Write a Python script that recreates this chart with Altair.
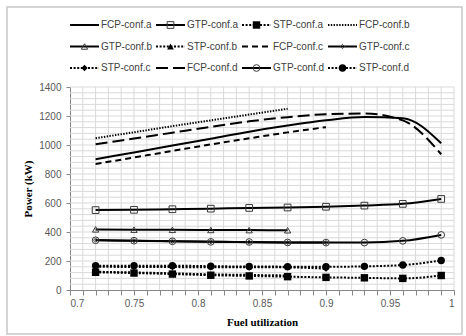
import altair as alt
import pandas as pd

# Fuel utilization sample points
fuel_util = [0.72, 0.75, 0.78, 0.81, 0.84, 0.87, 0.90, 0.93, 0.96, 0.99]

# Power (kW) per configuration
fcp_a = [902, 949, 996, 1043, 1092, 1134, 1170, 1193, 1185, 1012]
gtp_a = [551, 553, 557, 561, 566, 569, 574, 582, 594, 628]
stp_a = [122, 117, 110, 102, 97, 92, 87, 84, 80, 100]
fcp_b = [1047, 1088, 1130, 1170, 1210, 1250]
gtp_b = [418, 416, 415, 414, 413, 412]
stp_b = [126, 121, 115, 108, 104, 100]
fcp_c = [869, 914, 959, 1004, 1046, 1087, 1123]
gtp_c = [344, 340, 336, 333, 330, 328, 327]
stp_c = [160, 159, 158, 157, 157, 156, 147]
fcp_d = [1005, 1045, 1085, 1125, 1163, 1192, 1212, 1217, 1170, 936]
gtp_d = [343, 340, 336, 332, 331, 328, 327, 327, 339, 380]
stp_d = [168, 168, 168, 164, 162, 161, 160, 163, 172, 203]

series_names = [
    "FCP-conf.a", "GTP-conf.a", "STP-conf.a", "FCP-conf.b",
    "GTP-conf.b", "STP-conf.b", "FCP-conf.c", "GTP-conf.c",
    "STP-conf.c", "FCP-conf.d", "GTP-conf.d", "STP-conf.d",
]
series_values = [
    fcp_a, gtp_a, stp_a, fcp_b,
    gtp_b, stp_b, fcp_c, gtp_c,
    stp_c, fcp_d, gtp_d, stp_d,
]

# Line / marker style per series
DOT = [2, 1.6]
FINE_DOT = [1.4, 1.4]
SHORT_DASH = [6, 4]
LONG_DASH = [12, 5]
styles = {
    "FCP-conf.a": dict(dash=None, shape=None),
    "GTP-conf.a": dict(dash=None, shape="square", filled=False, size=45),
    "STP-conf.a": dict(dash=DOT, shape="square", filled=True, size=55),
    "FCP-conf.b": dict(dash=FINE_DOT, shape=None),
    "GTP-conf.b": dict(dash=None, shape="triangle-up", filled=False, size=40),
    "STP-conf.b": dict(dash=DOT, shape="triangle-up", filled=True, size=45),
    "FCP-conf.c": dict(dash=SHORT_DASH, shape=None),
    "GTP-conf.c": dict(dash=None, shape="diamond", filled=False, size=18),
    "STP-conf.c": dict(dash=DOT, shape="diamond", filled=True, size=40),
    "FCP-conf.d": dict(dash=LONG_DASH, shape=None),
    "GTP-conf.d": dict(dash=None, shape="circle", filled=False, size=45),
    "STP-conf.d": dict(dash=DOT, shape="circle", filled=True, size=55),
}

W, H = 384, 203
LABEL_FONT = "Liberation Sans"
TITLE_FONT = "Liberation Serif"

x_ticks = [round(0.70 + i * 0.01, 2) for i in range(31)]
y_ticks = list(range(0, 1401, 200))
grid_x = x_ticks[1:]
grid_y = list(range(40, 1401, 40))

x_scale = alt.Scale(domain=[0.7, 1.0], nice=False, zero=False)
y_scale = alt.Scale(domain=[0, 1400], nice=False, zero=True)

x_axis = alt.Axis(
    values=x_ticks,
    labelExpr="round(datum.value * 100) % 5 == 0 ? format(datum.value, '~g') : ''",
    labelOverlap=False,
    grid=False,
    tickSize=5,
    labelPadding=3,
    title="Fuel utilization",
    titleY=32,
    titleBaseline="middle",
)
y_axis = alt.Axis(
    values=y_ticks,
    format="d",
    grid=False,
    tickSize=4,
    labelPadding=5,
    title="Power (kW)",
    titleX=-42,
    titleY=H / 2,
    titleAngle=270,
    titleAlign="center",
    titleBaseline="middle",
)

x_enc = alt.X("u:Q", scale=x_scale, axis=x_axis)
y_enc = alt.Y("p:Q", scale=y_scale, axis=y_axis)

# ---- plot area: gridlines, curves and markers ----
grid_color = "#d9d9d9"
main_layers = [
    alt.Chart(pd.DataFrame({"u": grid_x})).mark_rule(color=grid_color, strokeWidth=1).encode(x=x_enc),
    alt.Chart(pd.DataFrame({"p": grid_y})).mark_rule(color=grid_color, strokeWidth=1).encode(y=y_enc),
]

for name, vals in zip(series_names, series_values):
    st = styles[name]
    df = pd.DataFrame({"u": fuel_util[: len(vals)], "p": vals})
    line_kw = dict(color="black", strokeWidth=2, interpolate="monotone")
    if st["dash"]:
        line_kw["strokeDash"] = st["dash"]
    main_layers.append(alt.Chart(df).mark_line(**line_kw).encode(x=x_enc, y=y_enc))

for name, vals in zip(series_names, series_values):
    st = styles[name]
    if not st["shape"]:
        continue
    df = pd.DataFrame({"u": fuel_util[: len(vals)], "p": vals})
    if st["filled"]:
        pt = alt.Chart(df).mark_point(shape=st["shape"], filled=True, size=st["size"],
                                      color="black", opacity=1)
    else:
        pt = alt.Chart(df).mark_point(shape=st["shape"], filled=False, size=st["size"],
                                      color="#3a3a3a", strokeWidth=1, opacity=1)
    main_layers.append(pt.encode(x=x_enc, y=y_enc))

plot = alt.layer(*main_layers)

# ---- legend in pixel space (relative to the plot origin) ----
px_x = alt.Scale(domain=[0, W], nice=False, zero=False)
px_y = alt.Scale(domain=[0, H], nice=False, zero=False, reverse=True)

COL_STEP, ROW_STEP = 86, 21.5
ROW0, SAMPLE_LEN = -62, 29

legend_df = pd.DataFrame({
    "series": series_names,
    "idx": list(range(len(series_names))),
})
legend_base = alt.Chart(legend_df).transform_calculate(
    lx=f"(datum.idx % 4) * {COL_STEP}",
    ly=f"{ROW0} + floor(datum.idx / 4) * {ROW_STEP}",
).transform_calculate(
    lx2=f"datum.lx + {SAMPLE_LEN}",
    mx=f"datum.lx + {SAMPLE_LEN / 2}",
    tx=f"datum.lx + {SAMPLE_LEN + 2}",
)

legend_layers = [
    alt.Chart(pd.DataFrame({"k": [0]})).mark_rect(
        filled=False, stroke="#c8c8c8", strokeWidth=1.5
    ).encode(
        x=alt.value(-63), x2=alt.value(W + 8), y=alt.value(-80), y2=alt.value(H + 44)
    )
]
for name in series_names:
    st = styles[name]
    base = legend_base.transform_filter(alt.datum.series == name)
    rule_kw = dict(color="black", strokeWidth=2)
    if st["dash"]:
        rule_kw["strokeDash"] = st["dash"]
    legend_layers.append(base.mark_rule(**rule_kw).encode(
        x=alt.X("lx:Q", scale=px_x, axis=None),
        x2="lx2:Q",
        y=alt.Y("ly:Q", scale=px_y, axis=None),
    ))
    if st["shape"]:
        if st["filled"]:
            mk = base.mark_point(shape=st["shape"], filled=True, size=st["size"], color="black", opacity=1)
        else:
            mk = base.mark_point(shape=st["shape"], filled=False, size=st["size"],
                                 color="#3a3a3a", strokeWidth=1, opacity=1)
        legend_layers.append(mk.encode(
            x=alt.X("mx:Q", scale=px_x, axis=None),
            y=alt.Y("ly:Q", scale=px_y, axis=None),
        ))

legend_layers.append(legend_base.mark_text(
    align="left", baseline="middle", font=LABEL_FONT, fontSize=10, color="#404040"
).encode(
    x=alt.X("tx:Q", scale=px_x, axis=None),
    y=alt.Y("ly:Q", scale=px_y, axis=None),
    text="series:N",
))

legend = alt.layer(*legend_layers)

chart = alt.layer(plot, legend).resolve_scale(
    x="independent", y="independent"
).properties(
    width=W,
    height=H,
    autosize=alt.AutoSizeParams(type="none"),
    padding={"left": 70, "top": 87, "right": 12, "bottom": 46},
).configure_view(
    stroke=None
).configure_axis(
    labelFont=LABEL_FONT,
    labelFontSize=10,
    labelColor="#595959",
    titleFont=TITLE_FONT,
    titleFontSize=11,
    titleFontWeight="bold",
    titleColor="black",
    domainColor="#868686",
    tickColor="#868686",
)

chart.save("out.html", embed_options={"renderer": "svg", "actions": False})
